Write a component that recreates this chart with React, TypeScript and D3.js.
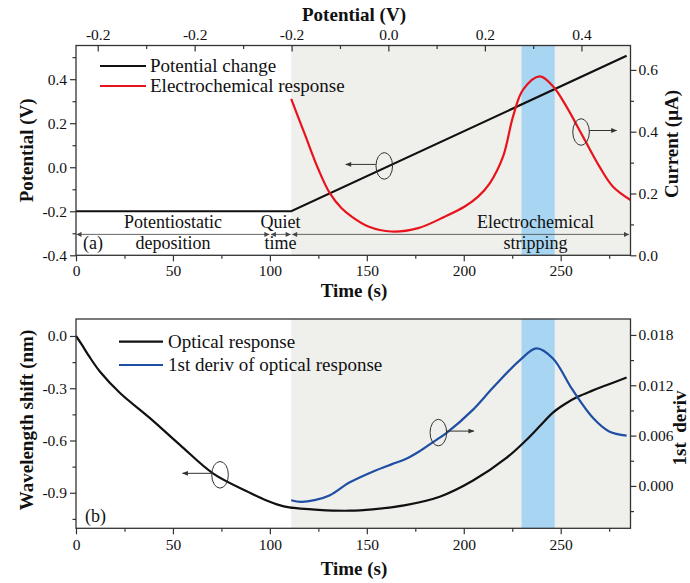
import React, { useEffect, useRef } from 'react';
import * as d3 from 'd3';

// ── Layout (pixels) ───────────────────────────────────────────────────────────
const W = 690;
const H = 583;
const X_LEFT = 76;
const X_RIGHT = 630.5;
const PANEL_A = { top: 45.5, bottom: 255.3 };
const PANEL_B = { top: 319, bottom: 528.3 };
const FONT = '"Liberation Serif", "Times New Roman", serif';
const AXIS_COLOR = '#333';
const GREY_BG = '#efefec';
const BAND_BLUE = '#a8d6f2';
const TITLE_SIZE = 19;

// ── Data ──────────────────────────────────────────────────────────────────────
const timeDomain = [0, 286];
const timeTicks = [0, 50, 100, 150, 200, 250];
const timeMinorTicks = [25, 75, 125, 175, 225, 275];

// top axis of panel (a): potential at given times
const potTickTimes = [11.2, 61.2, 111.2, 161.1, 210.9, 260.7];
const potTickLabels = ['-0.2', '-0.2', '-0.2', '0.0', '0.2', '0.4'];

// potential change (V)
const potentialT = [0, 111, 284];
const potentialV = [-0.2, -0.2, 0.506];

// electrochemical response (µA)
const currentT = [111, 118, 124.9, 130.9, 137, 142.2, 150.8, 162.7, 176.5, 190.2, 200.5, 207.4, 213.4, 220.3, 225.4, 230.6, 239.2, 246, 252.9, 261.5, 270, 277, 286];
const currentV = [0.506, 0.392, 0.28, 0.201, 0.152, 0.125, 0.093, 0.077, 0.088, 0.125, 0.158, 0.19, 0.233, 0.32, 0.449, 0.536, 0.579, 0.547, 0.482, 0.384, 0.287, 0.222, 0.179];

// optical response (nm)
const opticalT = [0, 3, 6.9, 12.4, 22.7, 38, 53.6, 70.8, 89.7, 98.3, 104, 110, 125, 141, 153, 170, 187.6, 204.8, 222, 232, 239, 246, 252, 259, 266, 273.5, 284];
const opticalV = [0, -0.05, -0.119, -0.205, -0.327, -0.47, -0.625, -0.79, -0.9, -0.945, -0.968, -0.984, -0.998, -1.003, -0.995, -0.971, -0.923, -0.83, -0.7, -0.6, -0.52, -0.44, -0.392, -0.348, -0.315, -0.283, -0.238];

// 1st derivative of optical response
const derivT = [111, 116, 123, 131, 141, 153, 163, 170, 177, 184, 191, 204.8, 215, 229, 237.5, 246, 256, 266.7, 275, 284];
const derivV = [-0.0017, -0.0019, -0.0017, -0.0011, 0.0004, 0.0017, 0.0026, 0.0032, 0.0041, 0.0052, 0.0063, 0.0091, 0.0117, 0.015, 0.0164, 0.0152, 0.0115, 0.0081, 0.0065, 0.006];

// regions
const strippingStart = 111;
const peakBand = [229.8, 246.9];
const phaseBounds = [0, 100, 111, 286];
const phaseLabelT = [50, 105.5, 237];
const phaseLabels = [['Potentiostatic', 'deposition'], ['Quiet', 'time'], ['Electrochemical', 'stripping']];

// ── Scales ────────────────────────────────────────────────────────────────────
const x = d3.scaleLinear().domain(timeDomain).range([X_LEFT, X_RIGHT]);
const yPot = d3.scaleLinear().domain([-0.4, 0.553]).range([PANEL_A.bottom, PANEL_A.top]);
const yCur = d3.scaleLinear().domain([0, 0.679]).range([PANEL_A.bottom, PANEL_A.top]);
const yOpt = d3.scaleLinear().domain([-1.104, 0.0975]).range([PANEL_B.bottom, PANEL_B.top]);
const yDer = d3.scaleLinear().domain([-0.00505, 0.0199]).range([PANEL_B.bottom, PANEL_B.top]);

const fmt1 = (d: number) => d.toFixed(1);
const fmt3 = (d: number) => d.toFixed(3);

function Axis({ axis, tx = 0, ty = 0, fontSize = 15.5 }: { axis: any; tx?: number; ty?: number; fontSize?: number }) {
  const ref = useRef<SVGGElement>(null);
  useEffect(() => {
    const g = d3.select(ref.current!);
    g.selectAll('*').remove();
    g.call(axis);
    g.select('.domain').remove();
    g.attr('font-family', FONT).attr('font-size', fontSize);
    g.selectAll('line').attr('stroke', AXIS_COLOR).attr('stroke-width', 1.2);
    g.selectAll('text')
      .attr('fill', '#111')
      .style('font-family', FONT)
      .style('font-size', `${fontSize}px`);
  }, [axis, fontSize]);
  return <g ref={ref} transform={`translate(${tx},${ty})`} />;
}

function linePath(xs: number[], ys: number[], yScale: d3.ScaleLinear<number, number>, curve: d3.CurveFactory = d3.curveCatmullRom.alpha(0.5)) {
  return d3
    .line<number>()
    .x((_, i) => x(xs[i]))
    .y((d) => yScale(d))
    .curve(curve)(ys) as string;
}

function Ellipse({ cx, cy, dir, len }: { cx: number; cy: number; dir: number; len: number }) {
  const sx = cx + dir * 8.5;
  return (
    <g>
      <ellipse cx={cx} cy={cy} rx={8.3} ry={13.3} fill="none" stroke="#333" strokeWidth={1} />
      <line x1={sx} y1={cy - 1.5} x2={sx + dir * len} y2={cy - 1.5} stroke="#333" strokeWidth={1} markerEnd="url(#arrowSmall)" />
    </g>
  );
}

export default function App() {
  const axA_bottom = d3.axisBottom(x).tickValues(timeTicks).tickSize(6).tickPadding(4).tickFormat((d: any) => String(d));
  const axBottomMinor = d3.axisBottom(x).tickValues(timeMinorTicks).tickSize(3.5).tickFormat(() => '');
  const axTop = d3.axisTop(x).tickValues(potTickTimes).tickSize(-6).tickPadding(6).tickFormat((_: any, i: number) => potTickLabels[i]);
  const axTopMinor = d3
    .axisTop(x)
    .tickValues(potTickTimes.slice(0, -1).map((t, i) => (t + potTickTimes[i + 1]) / 2))
    .tickSize(-3.5)
    .tickFormat(() => '');
  const axPot = d3.axisLeft(yPot).tickValues([-0.4, -0.2, 0, 0.2, 0.4]).tickSize(6).tickPadding(3).tickFormat(fmt1 as any);
  const axPotMinor = d3.axisLeft(yPot).tickValues([-0.3, -0.1, 0.1, 0.3, 0.5]).tickSize(3.5).tickFormat(() => '');
  const axCur = d3.axisRight(yCur).tickValues([0, 0.2, 0.4, 0.6]).tickSize(6).tickPadding(2).tickFormat(fmt1 as any);
  const axCurMinor = d3.axisRight(yCur).tickValues([0.1, 0.3, 0.5]).tickSize(3.5).tickFormat(() => '');

  const axB_bottom = d3.axisBottom(x).tickValues(timeTicks).tickSize(6).tickPadding(5).tickFormat((d: any) => String(d));
  const axOpt = d3.axisLeft(yOpt).tickValues([-0.9, -0.6, -0.3, 0]).tickSize(6).tickPadding(3).tickFormat(fmt1 as any);
  const axOptMinor = d3.axisLeft(yOpt).tickValues([-1.05, -0.75, -0.45, -0.15]).tickSize(3.5).tickFormat(() => '');
  const axDer = d3.axisRight(yDer).tickValues([0, 0.006, 0.012, 0.018]).tickSize(6).tickPadding(2).tickFormat(fmt3 as any);
  const axDerMinor = d3.axisRight(yDer).tickValues([-0.003, 0.003, 0.009, 0.015]).tickSize(3.5).tickFormat(() => '');

  const phaseY = yPot(-0.305);

  return (
    <svg width={W} height={H} style={{ position: 'absolute', left: 0, top: 0, background: '#fff' }} fontFamily={FONT}>
      <defs>
        <marker id="arrowSmall" viewBox="0 0 10 10" refX="9" refY="5" markerWidth="8" markerHeight="6" orient="auto" markerUnits="userSpaceOnUse">
          <path d="M0,1 L10,5 L0,9 Z" fill="#333" />
        </marker>
        <marker id="arrowPhase" viewBox="0 0 10 10" refX="10" refY="5" markerWidth="7" markerHeight="5" orient="auto-start-reverse" markerUnits="userSpaceOnUse">
          <path d="M0,0 L10,5 L0,10 Z" fill="#444" />
        </marker>
        <clipPath id="clipA">
          <rect x={X_LEFT} y={PANEL_A.top} width={X_RIGHT - X_LEFT} height={PANEL_A.bottom - PANEL_A.top} />
        </clipPath>
        <clipPath id="clipB">
          <rect x={X_LEFT} y={PANEL_B.top} width={X_RIGHT - X_LEFT} height={PANEL_B.bottom - PANEL_B.top} />
        </clipPath>
      </defs>

      {/* ── Panel (a) ── */}
      <rect x={x(strippingStart)} y={PANEL_A.top} width={X_RIGHT - x(strippingStart)} height={PANEL_A.bottom - PANEL_A.top} fill={GREY_BG} />
      <rect x={x(peakBand[0])} y={PANEL_A.top} width={x(peakBand[1]) - x(peakBand[0])} height={PANEL_A.bottom - PANEL_A.top} fill={BAND_BLUE} />

      {/* phase annotations */}
      {phaseLabels.map((lab, i) => (
        <g key={i}>
          <line
            x1={x(phaseBounds[i]) + (i === 0 ? 0.5 : 1)}
            x2={x(phaseBounds[i + 1]) - (i === 2 ? 1.5 : 0.5)}
            y1={phaseY}
            y2={phaseY}
            stroke="#555"
            strokeWidth={0.9}
            markerStart="url(#arrowPhase)"
            markerEnd="url(#arrowPhase)"
          />
          <text x={x(phaseLabelT[i])} y={phaseY - 6.5} textAnchor="middle" fontSize={18} fill="#111">{lab[0]}</text>
          <text x={x(phaseLabelT[i])} y={phaseY + 15} textAnchor="middle" fontSize={18} fill="#111">{lab[1]}</text>
        </g>
      ))}
      <text x={83} y={phaseY + 15} fontSize={18} fill="#111">(a)</text>

      <g clipPath="url(#clipA)">
        <path d={linePath(potentialT, potentialV, yPot, d3.curveLinear)} fill="none" stroke="#111" strokeWidth={2.2} />
        <path d={linePath(currentT, currentV, yCur)} fill="none" stroke="#e8141c" strokeWidth={2.2} />
      </g>

      <Ellipse cx={x(159)} cy={yPot(0.006)} dir={-1} len={30} />
      <Ellipse cx={x(260.5)} cy={yCur(0.399)} dir={1} len={27} />

      {/* legend (a) */}
      <line x1={100} x2={146} y1={66} y2={66} stroke="#111" strokeWidth={2.2} />
      <text x={150} y={72} fontSize={19} fill="#111">Potential change</text>
      <line x1={100} x2={146} y1={86} y2={86} stroke="#e8141c" strokeWidth={2.2} />
      <text x={150} y={92} fontSize={19} fill="#111">Electrochemical response</text>

      <rect x={X_LEFT} y={PANEL_A.top} width={X_RIGHT - X_LEFT} height={PANEL_A.bottom - PANEL_A.top} fill="none" stroke={AXIS_COLOR} strokeWidth={1.3} />
      <Axis axis={axA_bottom} ty={PANEL_A.bottom} />
      <Axis axis={axBottomMinor} ty={PANEL_A.bottom} />
      <Axis axis={axTop} ty={PANEL_A.top} />
      <Axis axis={axTopMinor} ty={PANEL_A.top} />
      <Axis axis={axPot} tx={X_LEFT} />
      <Axis axis={axPotMinor} tx={X_LEFT} />
      <Axis axis={axCur} tx={X_RIGHT} />
      <Axis axis={axCurMinor} tx={X_RIGHT} />

      <text x={354} y={21} textAnchor="middle" fontSize={TITLE_SIZE} fontWeight="bold" fill="#111">Potential (V)</text>
      <text x={354} y={297} textAnchor="middle" fontSize={TITLE_SIZE} fontWeight="bold" fill="#111">Time (s)</text>
      <text transform={`translate(33,${(PANEL_A.top + PANEL_A.bottom) / 2}) rotate(-90)`} textAnchor="middle" fontSize={TITLE_SIZE} fontWeight="bold" fill="#111">Potential (V)</text>
      <text transform={`translate(678,144) rotate(-90)`} textAnchor="middle" fontSize={TITLE_SIZE} fontWeight="bold" fill="#111">Current (μA)</text>

      {/* ── Panel (b) ── */}
      <rect x={x(strippingStart)} y={PANEL_B.top} width={X_RIGHT - x(strippingStart)} height={PANEL_B.bottom - PANEL_B.top} fill={GREY_BG} />
      <rect x={x(peakBand[0])} y={PANEL_B.top} width={x(peakBand[1]) - x(peakBand[0])} height={PANEL_B.bottom - PANEL_B.top} fill={BAND_BLUE} />

      <g clipPath="url(#clipB)">
        <path d={linePath(opticalT, opticalV, yOpt)} fill="none" stroke="#111" strokeWidth={2.2} />
        <path d={linePath(derivT, derivV, yDer)} fill="none" stroke="#1f4ea3" strokeWidth={2.2} />
      </g>

      <Ellipse cx={x(186.9)} cy={yDer(0.00636)} dir={1} len={27} />
      <Ellipse cx={x(74.3)} cy={yOpt(-0.797)} dir={-1} len={29} />

      {/* legend (b) */}
      <line x1={119} x2={163} y1={341.7} y2={341.7} stroke="#111" strokeWidth={2.2} />
      <text x={168} y={347.7} fontSize={19} fill="#111">Optical response</text>
      <line x1={119} x2={163} y1={365} y2={365} stroke="#1f4ea3" strokeWidth={2.2} />
      <text x={168} y={371} fontSize={19} fill="#111">1st deriv of optical response</text>
      <text x={85} y={521.5} fontSize={18} fill="#111">(b)</text>

      <rect x={X_LEFT} y={PANEL_B.top} width={X_RIGHT - X_LEFT} height={PANEL_B.bottom - PANEL_B.top} fill="none" stroke={AXIS_COLOR} strokeWidth={1.3} />
      <Axis axis={axB_bottom} ty={PANEL_B.bottom} />
      <Axis axis={axBottomMinor} ty={PANEL_B.bottom} />
      <Axis axis={axOpt} tx={X_LEFT} />
      <Axis axis={axOptMinor} tx={X_LEFT} />
      <Axis axis={axDer} tx={X_RIGHT} />
      <Axis axis={axDerMinor} tx={X_RIGHT} />

      <text x={354} y={575} textAnchor="middle" fontSize={TITLE_SIZE} fontWeight="bold" fill="#111">Time (s)</text>
      <text transform={`translate(33,420) rotate(-90)`} textAnchor="middle" fontSize={TITLE_SIZE} fontWeight="bold" fill="#111">Wavelength shift (nm)</text>
      <text transform={`translate(685.5,428) rotate(-90)`} textAnchor="middle" fontSize={TITLE_SIZE} fontWeight="bold" fill="#111" style={{ whiteSpace: 'pre' }}>{'1st  deriv'}</text>
    </svg>
  );
}
